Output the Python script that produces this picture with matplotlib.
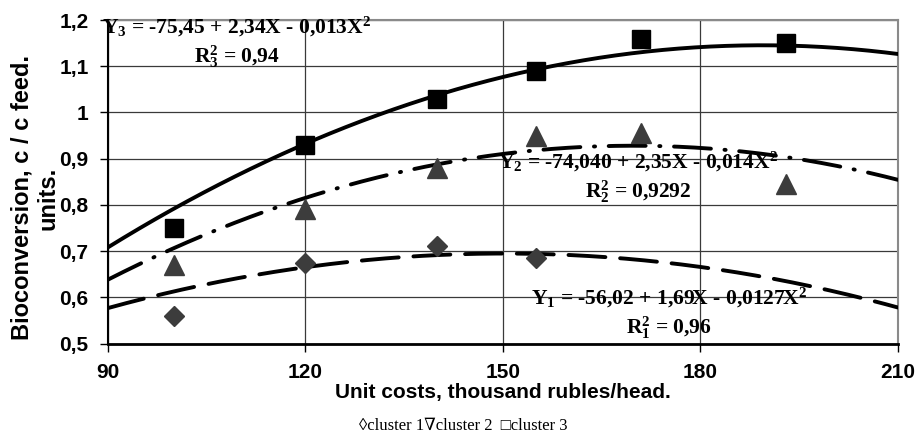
import numpy as np
import matplotlib
matplotlib.use("Agg")
import matplotlib.pyplot as plt
from matplotlib.ticker import FuncFormatter

matplotlib.rcParams.update(
    {
        "font.family": "Liberation Sans",
        "font.weight": "bold",
        "axes.labelweight": "bold",
        "mathtext.default": "regular",
    }
)

# data
x_c1 = [100, 120, 140, 155]
y_c1 = [0.56, 0.675, 0.71, 0.685]
x_c2 = [100, 120, 140, 155, 171, 193]
y_c2 = [0.67, 0.79, 0.88, 0.95, 0.955, 0.845]
x_c3 = [100, 120, 140, 155, 171, 193]
y_c3 = [0.75, 0.93, 1.03, 1.09, 1.16, 1.15]

# trend lines at the vertical grid lines
trend_x = [90, 120, 150, 180, 210]
trend_c1 = [0.577, 0.664, 0.696, 0.665, 0.578]
trend_c2 = [0.639, 0.812, 0.915, 0.92, 0.855]
trend_c3 = [0.711, 0.926, 1.078, 1.146, 1.124]

x_ticks = [90, 120, 150, 180, 210]
y_ticks = [0.5, 0.6, 0.7, 0.8, 0.9, 1.0, 1.1, 1.2]

eq1 = "Y$_1$ = -56,02 + 1,69X - 0,0127X$^2$\nR$_1^2$ = 0,96"
eq2 = "Y$_2$ = -74,040 + 2,35X - 0,014X$^2$\nR$_2^2$ = 0,9292"
eq3 = "Y$_3$ = -75,45 + 2,34X - 0,013X$^2$\nR$_3^2$ = 0,94"
legend_txt = "\u25cacluster 1\u2207cluster 2  \u25a1cluster 3"

fig = plt.figure(figsize=(9.19, 4.4), dpi=100)
ax = fig.add_axes([0.1175, 0.2193, 0.8596, 0.7352])

# quadratic trend lines (smoothed through the read points)
xs = np.linspace(90, 210, 300)
lw = 2.8
for ty, ls in [
    (trend_c3, "-"),
    (trend_c2, (0, (9.5, 3.5, 0.3, 3.5))),
    (trend_c1, (0, (9.5, 3.8))),
]:
    coef = np.polyfit(trend_x, ty, 2)
    ax.plot(xs, np.polyval(coef, xs), color="black", lw=lw, ls=ls,
            dash_capstyle="round", solid_capstyle="round", zorder=3)

ax.plot(x_c1, y_c1, ls="none", marker="D", ms=10, color="#3c3c3c", zorder=4)
ax.plot(x_c2, y_c2, ls="none", marker="^", ms=14, color="#3c3c3c", zorder=4)
ax.plot(x_c3, y_c3, ls="none", marker="s", ms=13, color="black", zorder=4)

ax.set_xlim(90, 210)
ax.set_ylim(0.5, 1.2)
ax.set_xticks(x_ticks)
ax.set_yticks(y_ticks)
ax.yaxis.set_major_formatter(FuncFormatter(lambda v, p: f"{round(v, 1):g}".replace(".", ",")))
ax.tick_params(axis="both", labelsize=15, length=6, width=1, direction="out", pad=8)
ax.grid(True, color="#3a3a3a", lw=0.9)
ax.set_axisbelow(True)

for side in ["top", "right"]:
    ax.spines[side].set_color("#8a8a8a")
    ax.spines[side].set_linewidth(1.5)
ax.spines["left"].set_linewidth(1.5)
ax.spines["bottom"].set_linewidth(2)

ax.set_xlabel("Unit costs, thousand rubles/head.", fontsize=15, fontweight="bold", labelpad=1)
fig.text(0.038, 0.55, "Bioconversion, c / c feed.\nunits.", rotation=90,
         ha="center", va="center", multialignment="center", fontsize=17,
         fontweight="bold")

eq_font = dict(family="Liberation Serif", fontweight="bold", fontsize=15.5,
               ha="center", va="center", multialignment="center",
               transform=ax.transAxes, zorder=5)
ax.text(0.163, 0.93, eq3, **eq_font)
ax.text(0.671, 0.513, eq2, **eq_font)
ax.text(0.71, 0.093, eq1, **eq_font)

fig.text(0.504, 0.032, legend_txt, family=["Liberation Serif", "DejaVu Serif"],
         fontweight="normal", fontsize=12, ha="center", va="center")

fig.savefig("out.png", dpi=100)
